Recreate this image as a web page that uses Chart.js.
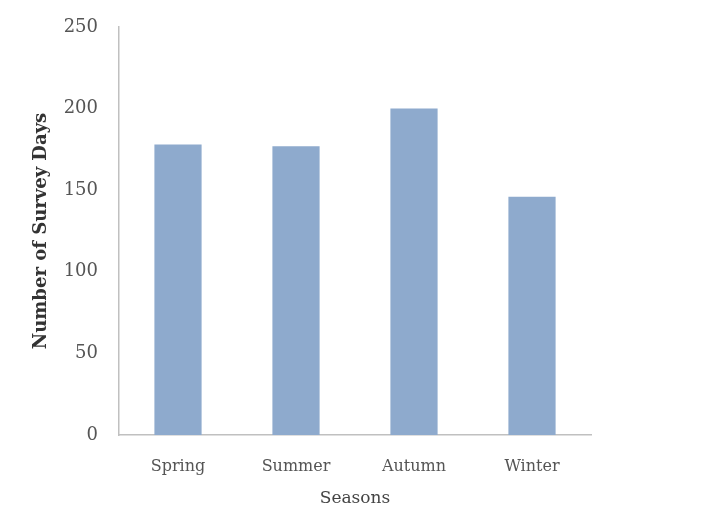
<!DOCTYPE html>
<html>
<head>
<meta charset="utf-8">
<title>Survey Days by Season</title>
<script src="https://cdn.jsdelivr.net/npm/chart.js@4"></script>
<style>
    body { margin: 0; background: #fff; }
    #wrap { width: 721px; height: 509px; }
</style>
</head>
<body>
<div id="wrap"><canvas id="barChart" width="721" height="509"></canvas></div>
<script>
const seasons = ['Spring', 'Summer', 'Autumn', 'Winter'];
const surveyDays = [178, 177, 200, 146];
const yTicks = [0, 50, 100, 150, 200, 250];

const textFont = '"DejaVu Serif", serif';

document.addEventListener('DOMContentLoaded', function() {
    const ctx = document.getElementById('barChart').getContext('2d');
    new Chart(ctx, {
        type: 'bar',
        data: {
            labels: seasons,
            datasets: [{
                label: 'Number of Survey Days',
                data: surveyDays,
                backgroundColor: '#8eaacd',
                barPercentage: 0.8,
                categoryPercentage: 0.5
            }]
        },
        options: {
            responsive: false,
            animation: false,
            layout: { padding: { left: 31, right: 130, top: 27, bottom: 0 } },
            plugins: {
                legend: { display: false },
                tooltip: { enabled: false }
            },
            scales: {
                x: {
                    grid: { display: false, drawTicks: false },
                    border: { color: '#c0c0c0', width: 1.5 },
                    ticks: {
                        color: '#555555',
                        font: { family: textFont, size: 16 },
                        padding: 22
                    },
                    title: {
                        display: true,
                        text: 'Seasons',
                        color: '#444444',
                        font: { family: textFont, size: 17 },
                        padding: { top: 11, bottom: 0 }
                    },
                    afterFit: scale => { scale.height = 74; }
                },
                y: {
                    min: 0,
                    max: 250,
                    afterBuildTicks: scale => { scale.ticks = yTicks.map(v => ({ value: v })); },
                    grid: { display: false, drawTicks: false },
                    border: { color: '#c0c0c0', width: 1.5 },
                    ticks: {
                        color: '#555555',
                        font: { family: textFont, size: 18 },
                        padding: 21
                    },
                    title: {
                        display: true,
                        text: 'Number of Survey Days',
                        color: '#333333',
                        font: { family: textFont, size: 18, weight: 'bold' },
                        padding: { top: 0, bottom: 6 }
                    },
                    afterFit: scale => {
                        scale.width = 88;
                        scale.paddingTop = 0;
                    }
                }
            }
        }
    });
});
</script>
</body>
</html>
